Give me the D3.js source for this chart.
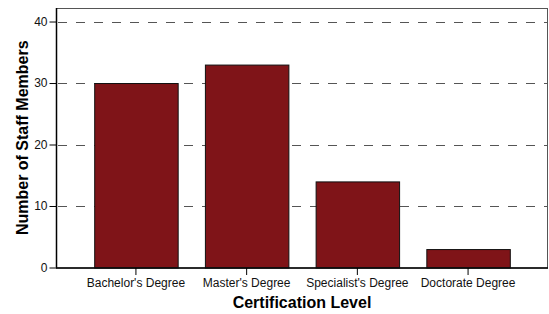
<!DOCTYPE html>
<html lang="en">
<head>
<meta charset="UTF-8">
<title>Staff certification</title>
<script src="https://cdn.jsdelivr.net/npm/d3@7/dist/d3.min.js"></script>
<style>
  body { margin: 0; background: #fff; }
  svg { font-family: Arial, "Liberation Sans", sans-serif; }
  .tick text { fill: #111; }
</style>
</head>
<body>
<div id="chart"></div>
<script>
var categories = ["Bachelor's Degree", "Master's Degree", "Specialist's Degree", "Doctorate Degree"];
var counts = [30, 33, 14, 3];
var yTicks = [0, 10, 20, 30, 40];

var W = 549, H = 314;
var pLeft = 56, pRight = 548, pTop = 8, pBottom = 267.5;

var svg = d3.select('#chart').append('svg').attr('width', W).attr('height', H);

var x = d3.scaleBand().domain(categories).range([pLeft, pRight])
    .paddingInner(0.246).paddingOuter(0.345);
var y = d3.scaleLinear().domain([0, 42.2]).range([pBottom, pTop]);

// gridlines
svg.append('g').selectAll('line').data(yTicks.filter(d => d > 0)).join('line')
    .attr('x1', pLeft).attr('x2', pRight)
    .attr('y1', d => Math.round(y(d)) + 0.5).attr('y2', d => Math.round(y(d)) + 0.5)
    .attr('stroke', '#555').attr('stroke-width', 1.2).attr('stroke-dasharray', '9,9')
    .attr('stroke-dashoffset', -2);

// bars
svg.append('g').selectAll('rect').data(counts).join('rect')
    .attr('x', (d, i) => x(categories[i]) + 0.5)
    .attr('y', d => y(d) + 0.5)
    .attr('width', x.bandwidth())
    .attr('height', d => pBottom - y(d))
    .attr('fill', '#7f1418').attr('stroke', '#111').attr('stroke-width', 1);

// frame
svg.append('rect').attr('x', pLeft + 0.5).attr('y', pTop + 0.5)
    .attr('width', pRight - pLeft - 1).attr('height', pBottom - pTop)
    .attr('fill', 'none').attr('stroke', '#555').attr('stroke-width', 1);

// axes
var yAxis = svg.append('g').attr('transform', 'translate(' + (pLeft + 0.5) + ',0)')
    .call(d3.axisLeft(y).tickValues(yTicks).tickSize(7).tickPadding(2));
var xAxis = svg.append('g').attr('transform', 'translate(0,' + (pBottom + 0.5) + ')')
    .call(d3.axisBottom(x).tickSize(7).tickPadding(3));
[yAxis, xAxis].forEach(function (g) {
    g.select('.domain').attr('stroke', '#000').attr('stroke-width', 1.5);
    g.selectAll('.tick line').attr('stroke', '#000');
    g.selectAll('.tick text').attr('font-size', 12).attr('font-family', 'Arial, "Liberation Sans", sans-serif');
});
yAxis.select('.domain').attr('d', 'M0,' + pTop + 'V' + pBottom);
xAxis.select('.domain').attr('d', 'M' + pLeft + ',0H' + pRight);

// axis titles
svg.append('text').attr('x', (pLeft + pRight) / 2).attr('y', 308)
    .attr('text-anchor', 'middle').attr('font-size', 16).attr('font-weight', 'bold')
    .text('Certification Level');
svg.append('text').attr('transform', 'translate(28,' + (pTop + pBottom) / 2 + ') rotate(-90)')
    .attr('text-anchor', 'middle').attr('font-size', 16).attr('font-weight', 'bold')
    .text('Number of Staff Members');
</script>
</body>
</html>
